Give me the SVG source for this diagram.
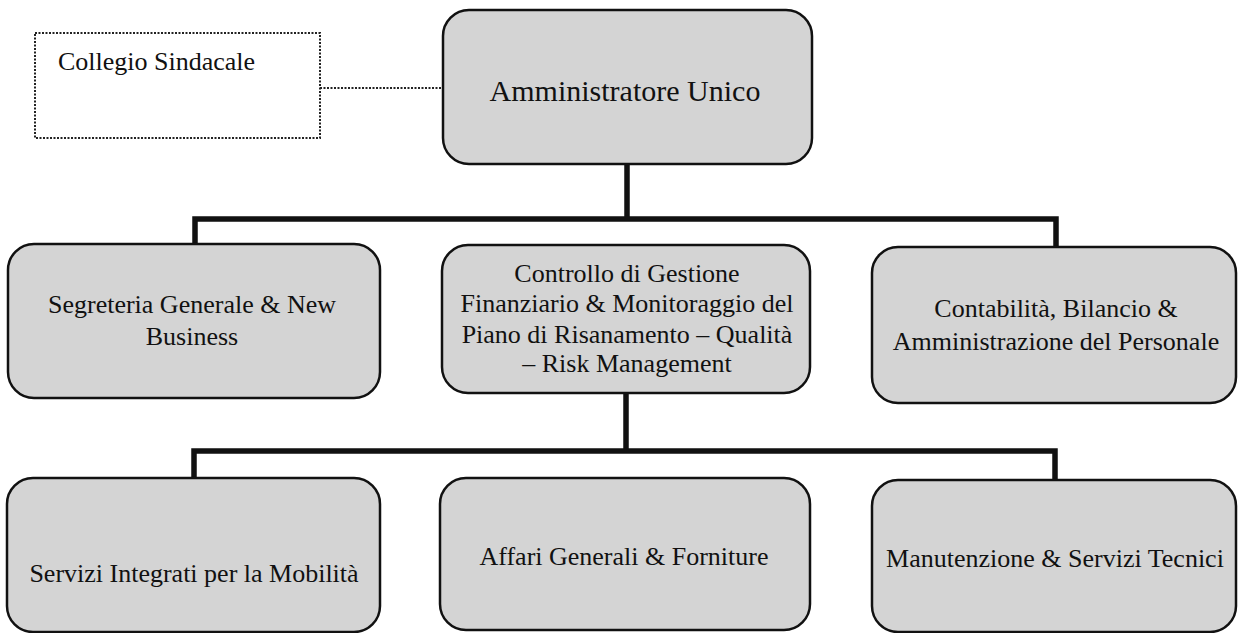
<svg xmlns="http://www.w3.org/2000/svg" width="1238" height="633" viewBox="0 0 1238 633">
<style>
.box{fill:#d4d4d4;stroke:#111;stroke-width:2.5}
.dbox{fill:#fff;stroke:#222;stroke-width:2;stroke-dasharray:2 1.5}
.t{font-family:"Liberation Serif","Times New Roman",serif;font-size:26px;fill:#111;text-anchor:middle}
.bus{fill:none;stroke:#111;stroke-width:5.5}
</style>
<rect width="1238" height="633" fill="#fff"/>
<g id="connectors">
<line x1="320" y1="88" x2="443" y2="88" stroke="#222" stroke-width="2" stroke-dasharray="2 1.5"/>
<path class="bus" d="M627 164 V219 M195 244 V219 H1056 V247"/>
<path class="bus" d="M626 393 V451 M194 478 V451 H1055 V480"/>
</g>
<g id="collegio">
<rect class="dbox" x="35" y="33" width="285" height="105"/>
<text class="t" x="58" y="70" style="text-anchor:start">Collegio Sindacale</text>
</g>
<g id="amministratore">
<rect class="box" x="443" y="10" width="369" height="154" rx="26"/>
<text class="t" x="625" y="101" style="font-size:30px">Amministratore Unico</text>
</g>
<g id="segreteria">
<rect class="box" x="8" y="244" width="372" height="154" rx="26"/>
<text class="t" x="192" y="313">Segreteria Generale &amp; New</text>
<text class="t" x="192" y="345">Business</text>
</g>
<g id="controllo">
<rect class="box" x="442" y="245" width="368" height="148" rx="26"/>
<text class="t" x="627" y="282">Controllo di Gestione</text>
<text class="t" x="627" y="312">Finanziario &amp; Monitoraggio del</text>
<text class="t" x="627" y="343">Piano di Risanamento – Qualità</text>
<text class="t" x="627" y="372">– Risk Management</text>
</g>
<g id="contabilita">
<rect class="box" x="872" y="247" width="364" height="156" rx="26"/>
<text class="t" x="1056" y="317">Contabilità, Bilancio &amp;</text>
<text class="t" x="1056" y="350">Amministrazione del Personale</text>
</g>
<g id="servizi">
<rect class="box" x="7" y="478" width="373" height="154" rx="26"/>
<text class="t" x="194" y="582">Servizi Integrati per la Mobilità</text>
</g>
<g id="affari">
<rect class="box" x="440" y="478" width="370" height="152" rx="26"/>
<text class="t" x="624" y="565">Affari Generali &amp; Forniture</text>
</g>
<g id="manutenzione">
<rect class="box" x="872" y="480" width="364" height="152" rx="26"/>
<text class="t" x="1055" y="567">Manutenzione &amp; Servizi Tecnici</text>
</g>
</svg>
